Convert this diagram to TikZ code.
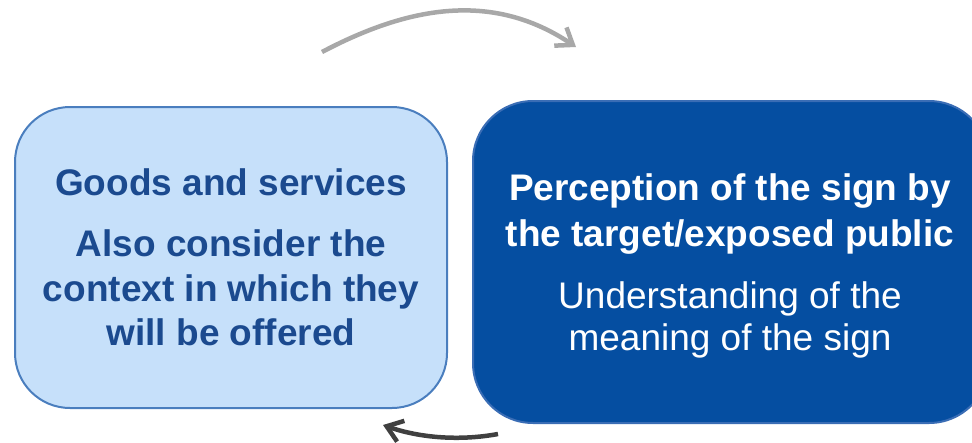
\documentclass[tikz,border=0pt]{standalone}
\usepackage{fontspec}
\setmainfont{Liberation Sans}
\usetikzlibrary{arrows.meta}
\definecolor{lightfill}{HTML}{C6E0FA}
\definecolor{lightedge}{HTML}{4A7EBE}
\definecolor{darkfill}{HTML}{054EA1}
\definecolor{darkedge}{HTML}{3A6DB5}
\definecolor{lefttext}{HTML}{1B4A8F}
\definecolor{toparrow}{HTML}{A8A8A8}
\definecolor{botarrow}{HTML}{404040}
\tikzset{
  lightbox/.style={draw=lightedge, fill=lightfill, line width=2pt, rounded corners=55pt, inner sep=0pt, outer sep=0pt},
  darkbox/.style={draw=darkedge, fill=darkfill, line width=2pt, rounded corners=60pt, inner sep=0pt, outer sep=0pt},
  linetext/.style={anchor=base, inner sep=0pt, font=\fontsize{37}{44}\selectfont},
  lefthead/.style={linetext, text=lefttext, font=\fontsize{37}{44}\selectfont\bfseries},
  righthead/.style={linetext, text=white, font=\fontsize{37}{44}\selectfont\bfseries},
  rightbody/.style={linetext, text=white},
  cyclearrow/.style={line width=4.5pt, -{Straight Barb[length=15pt,width=22pt]}},
}
\begin{document}
\begin{tikzpicture}[x=1pt,y=-1pt]
\useasboundingbox (0,0) rectangle (972,442);
\clip (0,0) rectangle (972,442);
\node[lightbox, minimum width=432pt, minimum height=301pt] (goods) at (231,257.5) {};
\node[darkbox, minimum width=516pt, minimum height=322pt] (perc) at (731,262) {};
\node[lefthead] (g1) at (231,195) {Goods and services};
\node[lefthead] (g2) at (231,256) {Also consider the};
\node[lefthead] (g3) at (231,301) {context in which they};
\node[lefthead] (g4) at (231,345) {will be offered};
\node[righthead] (p1) at (730,200) {Perception of the sign by};
\node[righthead] (p2) at (730,246) {the target/exposed public};
\node[rightbody] (p3) at (730,308) {Understanding of the};
\node[rightbody] (p4) at (730,350) {meaning of the sign};
\coordinate (ta) at (322,52);
\coordinate (tb) at (576,47);
\coordinate (ba) at (498,434);
\coordinate (bb) at (383,425);
\draw[cyclearrow, draw=toparrow] (ta) .. controls (411,5) and (494,-8) .. (tb);
\draw[cyclearrow, draw=botarrow] (ba) .. controls (460,441) and (420,438) .. (bb);
\end{tikzpicture}
\end{document}
